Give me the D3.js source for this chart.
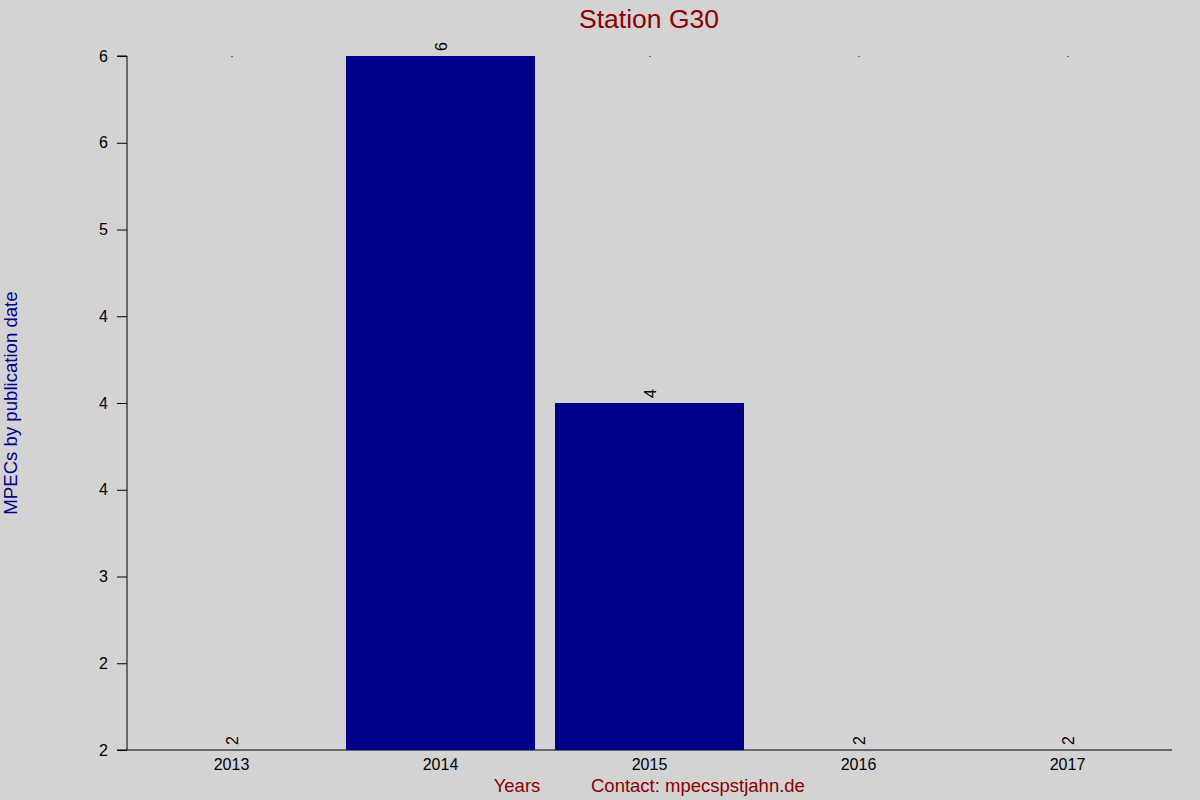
<!DOCTYPE html>
<html>
<head>
<meta charset="utf-8">
<script src="https://cdn.jsdelivr.net/npm/d3@7"></script>
<style>
    body { margin: 0; background: #d3d3d3; }
    svg { display: block; font-family: "Liberation Sans", Arial, sans-serif; }
</style>
</head>
<body>
<div id="chart"></div>
<script>
// chart data
const years = ['2013', '2014', '2015', '2016', '2017'];
const counts = [2, 6, 4, 2, 2];
const yTicks = [2, 2.5, 3, 3.5, 4, 4.5, 5, 5.5, 6];

const width = 1200;
const height = 800;

// Graph margin settings
const margin = { top: 56, right: 28, bottom: 50, left: 127 };
const drawWidth = width - margin.left - margin.right;
const drawHeight = height - margin.top - margin.bottom;

const svg = d3.select('#chart').append('svg')
    .attr('width', width)
    .attr('height', height);

svg.append('rect')
    .attr('width', width)
    .attr('height', height)
    .attr('fill', '#d3d3d3');

const xScale = d3.scaleBand()
    .domain(years)
    .range([0, drawWidth])
    .paddingInner(20 / 209)
    .paddingOuter(10 / 209);

const yScale = d3.scaleLinear()
    .domain([2, 6])
    .range([drawHeight, 0]);

const g = svg.append('g')
    .attr('transform', `translate(${margin.left},${margin.top})`);

// round half to even, like the source labels
const roundEven = v => {
    const f = Math.floor(v);
    const d = v - f;
    if (Math.abs(d - 0.5) < 1e-9) return f % 2 === 0 ? f : f + 1;
    return Math.round(v);
};

const yAxis = d3.axisLeft(yScale)
    .tickValues(yTicks)
    .tickSize(10)
    .tickPadding(9)
    .tickFormat(d => roundEven(d));

const yAxisG = g.append('g').call(yAxis);
yAxisG.select('.domain').attr('d', `M-10,${drawHeight}H0V0H-10`).attr('stroke', '#000');
yAxisG.selectAll('text').style('font-size', '16px').attr('fill', '#000');

// x axis baseline
g.append('line')
    .attr('x1', 0).attr('x2', drawWidth)
    .attr('y1', drawHeight).attr('y2', drawHeight)
    .attr('stroke', '#000');

const xAxis = d3.axisBottom(xScale).tickSize(0).tickPadding(9);
const xAxisG = g.append('g')
    .attr('transform', `translate(0,${drawHeight})`)
    .call(xAxis);
xAxisG.select('.domain').remove();
xAxisG.selectAll('text').style('font-size', '16px').attr('fill', '#000');

// small marks at the top of each band
g.selectAll('.top-dot')
    .data(years)
    .enter().append('rect')
    .attr('class', 'top-dot')
    .attr('x', d => xScale(d) + xScale.bandwidth() / 2)
    .attr('y', yScale(6))
    .attr('width', 1)
    .attr('height', 1)
    .attr('fill', '#000');

// bars
g.selectAll('.bar')
    .data(counts)
    .enter().append('rect')
    .attr('class', 'bar')
    .attr('x', (d, i) => xScale(years[i]))
    .attr('y', d => yScale(d))
    .attr('width', xScale.bandwidth())
    .attr('height', d => drawHeight - yScale(d))
    .attr('fill', '#00008b');

// value labels
g.selectAll('.val')
    .data(counts)
    .enter().append('text')
    .attr('class', 'val')
    .attr('transform', (d, i) => `translate(${xScale(years[i]) + xScale.bandwidth() / 2 + 6},${yScale(d) - 5}) rotate(-90)`)
    .style('font-size', '16px')
    .attr('fill', '#000')
    .text(d => d);

// titles
svg.append('text')
    .attr('x', 649)
    .attr('y', 28)
    .attr('text-anchor', 'middle')
    .style('font-size', '26.5px')
    .attr('fill', '#8b0000')
    .text('Station G30');

svg.append('text')
    .attr('transform', `translate(17, ${margin.top + drawHeight / 2}) rotate(-90)`)
    .attr('text-anchor', 'middle')
    .style('font-size', '18.6px')
    .attr('fill', '#00008b')
    .text('MPECs by publication date');

svg.append('text')
    .attr('x', 517)
    .attr('y', 792)
    .attr('text-anchor', 'middle')
    .style('font-size', '18.5px')
    .attr('fill', '#8b0000')
    .text('Years');

svg.append('text')
    .attr('x', 591)
    .attr('y', 792)
    .style('font-size', '18.5px')
    .attr('fill', '#8b0000')
    .text('Contact: mpecspstjahn.de');
</script>
</body>
</html>
